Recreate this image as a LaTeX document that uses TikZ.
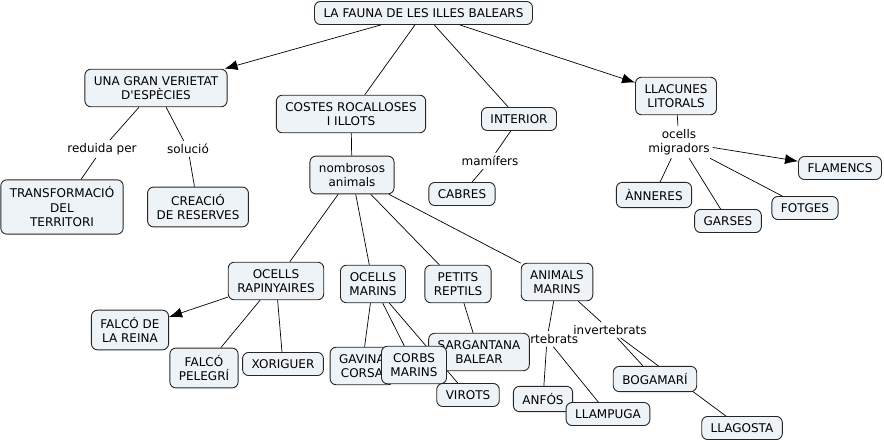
\documentclass[tikz,border=0pt]{standalone}
\usepackage{fontspec}
\setmainfont{DejaVu Sans}[Ligatures=TeXOff]
\usetikzlibrary{arrows.meta,backgrounds}
\definecolor{boxfill}{RGB}{237,243,246}

\begin{document}
\begin{tikzpicture}[x=1pt,y=-1pt,
    concept/.style={draw=black!85,fill=boxfill,rounded corners=6pt,align=center,
        inner xsep=9pt,inner ysep=7pt,line width=0.9pt,font=\fontsize{12}{14.5}\selectfont},
    lbl/.style={align=center,inner sep=3pt,font=\fontsize{12}{14.5}\selectfont},
    tip/.style={-{Latex[length=13pt,width=10pt]}}]
    \useasboundingbox (0,0) rectangle (884,443);
    % top
    \node[concept] (fauna) at (423.5,13) {LA FAUNA DE LES ILLES BALEARS};
    \node[concept] (varietat) at (156,88) {UNA GRAN VERIETAT\\D'ESPÈCIES};
    \node[concept] (costes) at (351,114) {COSTES ROCALLOSES\\I ILLOTS};
    \node[concept] (interior) at (519,119) {INTERIOR};
    \node[concept] (llacunes) at (676,96) {LLACUNES\\LITORALS};
    % left branch
    \node[lbl] (reduida) at (102,149) {reduida per};
    \node[lbl] (solucio) at (188,149) {solució};
    \node[concept] (transf) at (62,207) {TRANSFORMACIÓ\\DEL\\TERRITORI};
    \node[concept] (reserves) at (198,207) {CREACIÓ\\DE RESERVES};
    % interior and llacunes
    \node[lbl] (mamifers) at (490,161) {mamífers};
    \node[concept] (cabres) at (462,194) {CABRES};
    \node[lbl] (migradors) at (679,142) {ocells\\migradors};
    \node[concept] (flamencs) at (840,168) {FLAMENCS};
    \node[concept] (anneres) at (654,195) {ÀNNERES};
    \node[concept] (garses) at (728,221) {GARSES};
    \node[concept] (fotges) at (805,208) {FOTGES};
    % costes
    \node[concept] (nombrosos) at (352,175) {nombrosos\\animals};
    \node[concept] (rapinyaires) at (276,281) {OCELLS\\RAPINYAIRES};
    \node[concept] (omarins) at (373,284) {OCELLS\\MARINS};
    \node[concept] (reptils) at (458,284) {PETITS\\REPTILS};
    \node[concept] (amarins) at (557,282) {ANIMALS\\MARINS};
    \node[concept] (reina) at (130,330) {FALCÓ DE\\LA REINA};
    \node[concept] (pelegri) at (204,368) {FALCÓ\\PELEGRÍ};
    \node[concept] (xoriguer) at (283,364) {XORIGUER};
    \node[concept] (gavina) at (362,366) {GAVINA\\CORSA};
    \node[lbl] (vertebrats) at (547,339) {vertebrats};
    \node[concept] (sargantana) at (479,352) {SARGANTANA\\BALEAR};
    \node[concept] (corbs) at (414,365) {CORBS\\MARINS};
    \node[concept] (virots) at (468,395) {VIROTS};
    \node[lbl] (invertebrats) at (610,330) {invertebrats};
    \node[concept] (anfos) at (543,399) {ANFÓS};
    \node[concept] (llampuga) at (608,414) {LLAMPUGA};
    \node[concept] (bogamari) at (655,379) {BOGAMARÍ};
    \node[concept] (llagosta) at (742,428) {LLAGOSTA};
    % links
    \begin{pgfonlayer}{background}
    \begin{scope}[line width=0.7pt]
        \draw[tip] (fauna) -- (varietat);
        \draw (fauna) -- (costes);
        \draw (fauna) -- (interior);
        \draw[tip] (fauna) -- (llacunes);
        \draw (varietat) -- (reduida) -- (transf);
        \draw (varietat) -- (solucio) -- (reserves);
        \draw (interior) -- (mamifers) -- (cabres);
        \draw (llacunes) -- (migradors);
        \draw[tip] (migradors) -- (flamencs);
        \draw (migradors) -- (anneres);
        \draw (migradors) -- (garses);
        \draw (migradors) -- (fotges);
        \draw (costes) -- (nombrosos);
        \draw (nombrosos) -- (rapinyaires);
        \draw (nombrosos) -- (omarins);
        \draw (nombrosos) -- (reptils);
        \draw (nombrosos) -- (amarins);
        \draw[tip] (rapinyaires) -- (reina);
        \draw (rapinyaires) -- (pelegri);
        \draw (rapinyaires) -- (xoriguer);
        \draw (omarins) -- (gavina);
        \draw (omarins) -- (corbs);
        \draw (omarins) -- (virots);
        \draw (reptils) -- (sargantana);
        \draw (amarins) -- (vertebrats);
        \draw (vertebrats) -- (anfos);
        \draw (vertebrats) -- (llampuga);
        \draw (amarins) -- (invertebrats);
        \draw (invertebrats) -- (bogamari);
        \draw (invertebrats) -- (llagosta);
    \end{scope}
    \end{pgfonlayer}
\end{tikzpicture}
\end{document}
